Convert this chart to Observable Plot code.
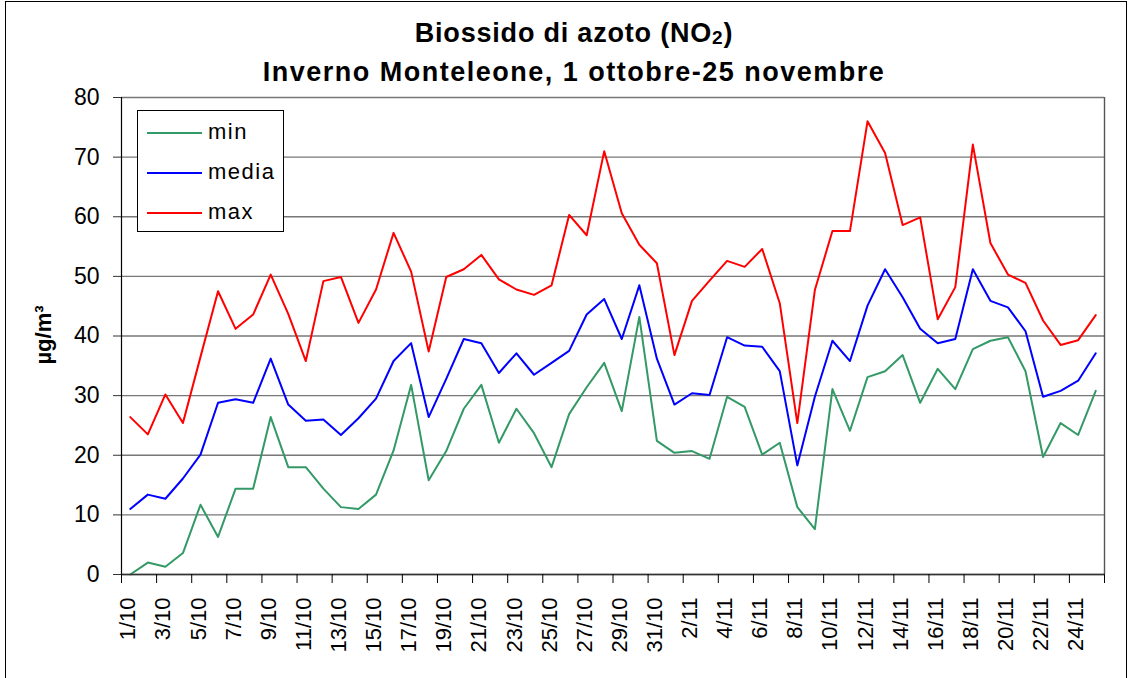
<!DOCTYPE html>
<html>
<head>
<meta charset="utf-8">
<script src="https://cdn.jsdelivr.net/npm/d3@7"></script>
<script src="https://cdn.jsdelivr.net/npm/@observablehq/plot@0.6"></script>
<style>
  body { margin: 0; background: #fff; }
  #wrap { position: relative; width: 1128px; height: 678px; overflow: hidden; background: #fff;
          font-family: "Liberation Sans", Arial, sans-serif; color: #000; }
  #wrap svg { position: absolute; left: 0; top: 0; }
  #border { position: absolute; left: 5px; top: 1px; width: 1122px; height: 720px;
            border: 1px solid #000; box-sizing: border-box; pointer-events: none; }
  .t { position: absolute; left: 20px; width: 1108px; text-align: center; font-weight: bold;
       font-size: 27px; line-height: 27px; white-space: nowrap; }
  .t1 { top: 20px; letter-spacing: 0.8px; }
  .t2 { top: 59px; letter-spacing: 1.5px; }
  .sub { font-size: 19px; position: relative; top: 2px; }
  #legend { position: absolute; left: 137px; top: 110px; width: 147px; height: 122px;
            border: 1px solid #000; box-sizing: border-box; background: #fff; }
  .sw { position: absolute; left: 9px; width: 55px; height: 2px; }
  .lt { position: absolute; left: 70px; font-size: 22px; line-height: 22px; letter-spacing: 1.5px; white-space: nowrap; }
  #ylab { position: absolute; left: -6px; top: 324px; width: 100px; text-align: center;
          font-weight: bold; font-size: 22px; line-height: 22px; transform: rotate(-90deg);
          transform-origin: 50% 50%; white-space: nowrap; }
</style>
</head>
<body>
<div id="wrap"></div>
<script>
// ---- data ----
const dates = [
  "1/10","2/10","3/10","4/10","5/10","6/10","7/10","8/10","9/10","10/10",
  "11/10","12/10","13/10","14/10","15/10","16/10","17/10","18/10","19/10","20/10",
  "21/10","22/10","23/10","24/10","25/10","26/10","27/10","28/10","29/10","30/10","31/10",
  "1/11","2/11","3/11","4/11","5/11","6/11","7/11","8/11","9/11","10/11",
  "11/11","12/11","13/11","14/11","15/11","16/11","17/11","18/11","19/11","20/11",
  "21/11","22/11","23/11","24/11","25/11"
];
const tickLabels = [
  "1/10","3/10","5/10","7/10","9/10","11/10","13/10","15/10","17/10","19/10",
  "21/10","23/10","25/10","27/10","29/10","31/10","2/11","4/11","6/11","8/11",
  "10/11","12/11","14/11","16/11","18/11","20/11","22/11","24/11"
];
const yTicks = [0, 10, 20, 30, 40, 50, 60, 70, 80];
const seriesNames = ["min", "media", "max"];
const seriesColors = ["#339966", "#0000FF", "#FF0000"];

const minVals = [
  0, 2.0, 1.3, 3.6, 11.7, 6.3, 14.4, 14.4, 26.4, 18.0,
  18.0, 14.4, 11.3, 11.0, 13.4, 20.8, 31.8, 15.8, 20.7, 27.8,
  31.8, 22.1, 27.8, 23.7, 18.0, 26.9, 31.4, 35.5, 27.4, 43.2, 22.4,
  20.4, 20.7, 19.4, 29.8, 28.1, 20.1, 22.1, 11.3, 7.6, 31.1,
  24.1, 33.1, 34.1, 36.8, 28.8, 34.5, 31.1, 37.8, 39.2, 39.8,
  34.1, 19.7, 25.4, 23.4, 30.8
];
const mediaVals = [
  11.0, 13.4, 12.7, 16.1, 20.1, 28.8, 29.4, 28.8, 36.2, 28.5,
  25.8, 26.0, 23.4, 26.2, 29.5, 35.8, 38.8, 26.4, 32.8, 39.5,
  38.8, 33.8, 37.1, 33.5, 35.5, 37.5, 43.6, 46.2, 39.5, 48.5, 36.2,
  28.5, 30.4, 30.1, 39.8, 38.4, 38.2, 34.1, 18.3, 29.8, 39.2,
  35.8, 45.1, 51.2, 46.5, 41.2, 38.8, 39.5, 51.2, 45.9, 44.8,
  40.8, 29.8, 30.8, 32.5, 37.1
];
const maxVals = [
  26.4, 23.5, 30.2, 25.4, 36.5, 47.5, 41.2, 43.6, 50.3, 43.7,
  35.8, 49.2, 49.9, 42.2, 47.8, 57.3, 50.8, 37.4, 49.9, 51.2,
  53.6, 49.5, 47.8, 46.9, 48.5, 60.3, 56.9, 71.0, 60.6, 55.3, 52.2,
  36.8, 45.9, 49.3, 52.6, 51.6, 54.6, 45.5, 25.4, 47.7, 57.6,
  57.6, 76.0, 70.7, 58.6, 59.9, 42.8, 48.2, 72.1, 55.6, 50.3,
  48.9, 42.6, 38.5, 39.3, 43.5
];

// ---- table ----
const valuesBySeries = [minVals, mediaVals, maxVals];
const rows = [];
seriesNames.forEach((name, s) => {
  valuesBySeries[s].forEach((v, i) => rows.push({ i, date: dates[i], series: name, value: v }));
});
const n = dates.length;
const boundaryTicks = d3.range(0, n + 1, 2);

const chart = Plot.plot({
  width: 1128,
  height: 678,
  marginTop: 97,
  marginBottom: 104,
  marginLeft: 121,
  marginRight: 24,
  style: { fontFamily: "Liberation Sans, Arial, sans-serif", background: "transparent", color: "#000" },
  x: { type: "linear", domain: [0, n], axis: null },
  y: { domain: [0, 80], axis: null },
  color: { domain: seriesNames, range: seriesColors },
  marks: [
    Plot.gridY(yTicks, { stroke: "#777", strokeOpacity: 1, strokeWidth: 1.4 }),
    Plot.ruleX([n], { stroke: "#555", strokeWidth: 1.4 }),
    Plot.line(rows, { x: d => d.i + 0.5, y: "value", z: "series", stroke: "series", strokeWidth: 2 }),
    Plot.ruleX([0], { stroke: "#000", strokeWidth: 1.2 }),
    Plot.ruleY([0], { stroke: "#333", strokeWidth: 1.4 }),
    Plot.axisY(yTicks, { tickSize: 8, tickPadding: 14, fontSize: 23, label: null, stroke: "#333", tickFormat: d => String(d) }),
    Plot.axisX(boundaryTicks, { tickSize: 9, tickFormat: () => "", label: null, stroke: "#000" }),
    Plot.text(tickLabels, {
      x: d => dates.indexOf(d) + 0.5,
      text: d => d,
      frameAnchor: "bottom",
      dy: 23,
      dx: -2,
      rotate: -90,
      textAnchor: "end",
      lineAnchor: "middle",
      fontSize: 22,
      fill: "#000"
    })
  ]
});

const wrap = document.getElementById("wrap");
wrap.appendChild(chart);

const border = document.createElement("div");
border.id = "border";
wrap.appendChild(border);

const t1 = document.createElement("div");
t1.className = "t t1";
t1.innerHTML = 'Biossido di azoto (NO<span class="sub">2</span>)';
wrap.appendChild(t1);

const t2 = document.createElement("div");
t2.className = "t t2";
t2.textContent = "Inverno Monteleone, 1 ottobre-25 novembre";
wrap.appendChild(t2);

const ylab = document.createElement("div");
ylab.id = "ylab";
ylab.textContent = "µg/m³";
wrap.appendChild(ylab);

const legend = document.createElement("div");
legend.id = "legend";
const rowTops = [10, 50, 90];
const swTops = [21, 61, 101];
seriesNames.forEach((name, k) => {
  const sw = document.createElement("div");
  sw.className = "sw";
  sw.style.top = swTops[k] + "px";
  sw.style.background = seriesColors[k];
  legend.appendChild(sw);
  const lt = document.createElement("div");
  lt.className = "lt";
  lt.style.top = rowTops[k] + "px";
  lt.textContent = name;
  legend.appendChild(lt);
});
wrap.appendChild(legend);
</script>
</body>
</html>
